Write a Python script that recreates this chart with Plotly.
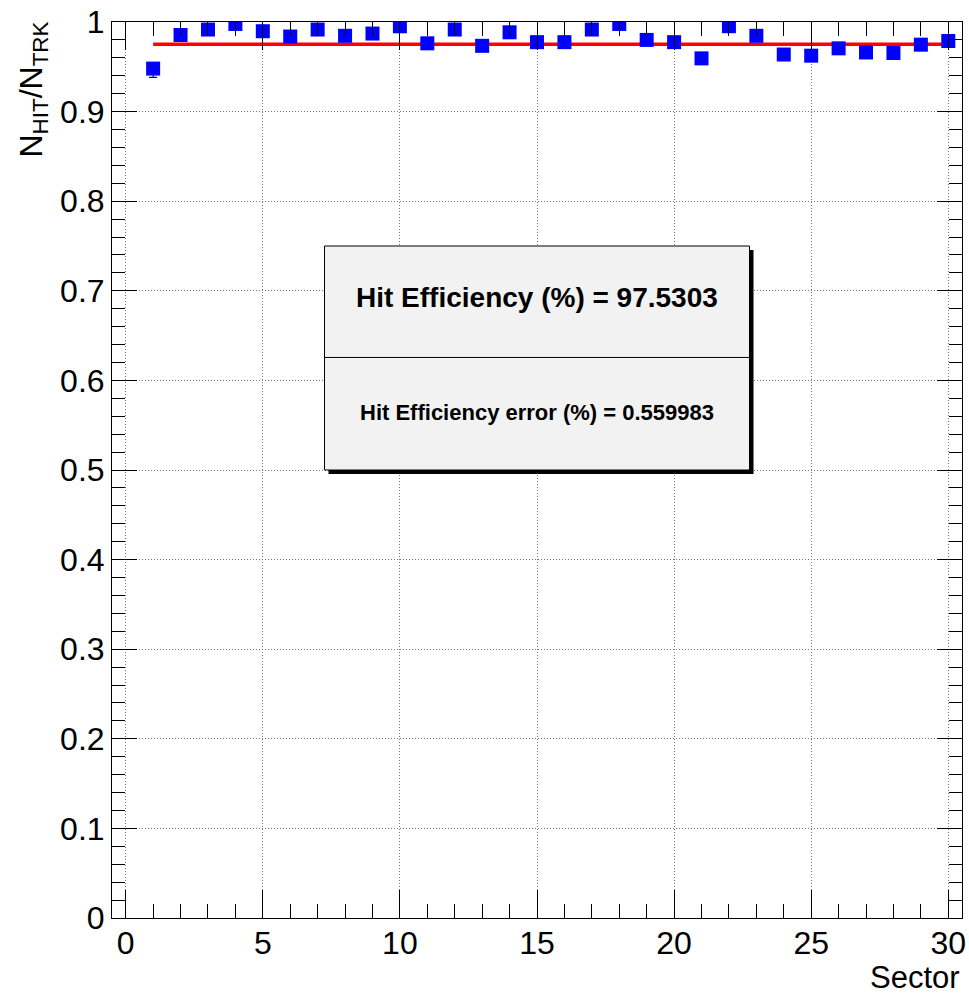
import plotly.graph_objects as go

sectors = list(range(1, 31))
efficiency = [0.948, 0.9855, 0.9916, 0.9978, 0.9897, 0.9838, 0.9916, 0.9846, 0.9871, 0.9952,
              0.9762, 0.9916, 0.9734, 0.9885, 0.9775, 0.9775, 0.9916, 0.9978, 0.9800, 0.9775,
              0.9594, 0.9953, 0.9846, 0.9637, 0.9624, 0.9706, 0.9660, 0.9654, 0.9747, 0.9788]
err_plus = [0.005] * 30
err_minus = [0.0098] + [0.005] * 29

fit_x = [1, 30]
fit_value = 0.975303
fit_y = [fit_value, fit_value]

box_line1 = "Hit Efficiency (%) = 97.5303"
box_line2 = "Hit Efficiency error (%) = 0.559983"

FONT = "Liberation Sans, Arial, Helvetica, sans-serif"

fig = go.Figure()
fig.add_trace(go.Scatter(x=fit_x, y=fit_y, mode="lines",
                         line=dict(color="#ff0000", width=3.5), showlegend=False))
fig.add_trace(go.Scatter(
    x=sectors, y=efficiency, mode="markers",
    marker=dict(symbol="square", size=14, color="#0000ff"),
    error_y=dict(type="data", symmetric=False, array=err_plus, arrayminus=err_minus,
                 color="#0000cc", thickness=1.2, width=4),
    showlegend=False))

# stat box: shadow + box + divider
sx, sy = 4 / 850, 4 / 895
fig.add_shape(type="rect", xref="paper", yref="paper", x0=0.25 + sx, x1=0.75 + sx,
              y0=0.5 - sy, y1=0.75 - sy, fillcolor="black", line=dict(width=0), layer="above")
fig.add_shape(type="rect", xref="paper", yref="paper", x0=0.25, x1=0.75, y0=0.5, y1=0.75,
              fillcolor="#f2f2f2", line=dict(color="black", width=1), layer="above")
fig.add_shape(type="line", xref="paper", yref="paper", x0=0.25, x1=0.75, y0=0.6256, y1=0.6256,
              line=dict(color="black", width=1), layer="above")
fig.add_annotation(xref="paper", yref="paper", x=0.5, y=0.692, yshift=18,
                   text="<b>" + box_line1 + "</b>",
                   showarrow=False, font=dict(family=FONT, size=28, color="black"))
fig.add_annotation(xref="paper", yref="paper", x=0.5, y=0.564, text="<b>" + box_line2 + "</b>",
                   showarrow=False, font=dict(family=FONT, size=22, color="black"))

# axis titles
fig.add_annotation(xref="paper", yref="paper", x=0, y=1, xanchor="right", yanchor="top",
                   xshift=-57, yshift=2, textangle=-90,
                   text="N<sub>HIT</sub>/N<sub>TRK</sub>", showarrow=False,
                   font=dict(family=FONT, size=32, color="black"))
fig.add_annotation(xref="paper", yref="paper", x=1, y=0, xanchor="right", yanchor="middle",
                   yshift=-59, xshift=0, text="Sector", showarrow=False,
                   font=dict(family=FONT, size=31, color="black"))

GRID = dict(showgrid=True, gridcolor="#777", griddash="1px,2px", gridwidth=1)

fig.update_xaxes(range=[-0.5, 30.5], dtick=5, tick0=0, ticks="inside", ticklen=28,
                 tickcolor="black", tickwidth=1, showline=True, linecolor="black",
                 linewidth=1, mirror="ticks", zeroline=False, automargin=False,
                 ticklabelstandoff=-3,
                 tickfont=dict(family=FONT, size=32, color="black"),
                 minor=dict(dtick=1, ticks="inside", ticklen=14, tickcolor="black",
                            showgrid=False), **GRID)
fig.update_yaxes(range=[0, 1], dtick=0.1, tick0=0, ticks="inside", ticklen=25,
                 tickcolor="black", tickwidth=1, showline=True, linecolor="black",
                 linewidth=1, mirror="ticks", zeroline=False, automargin=False,
                 tickfont=dict(family=FONT, size=32, color="black"),
                 minor=dict(dtick=0.02, ticks="inside", ticklen=13, tickcolor="black",
                            showgrid=False), **GRID)

fig.update_layout(width=969, height=995, margin=dict(l=112, r=7, t=22, b=77),
                  plot_bgcolor="white", paper_bgcolor="white", font=dict(family=FONT))

fig.write_html("out.html", config={"displayModeBar": False},
               post_script="document.body.style.margin='0px';document.body.style.overflow='hidden';")
